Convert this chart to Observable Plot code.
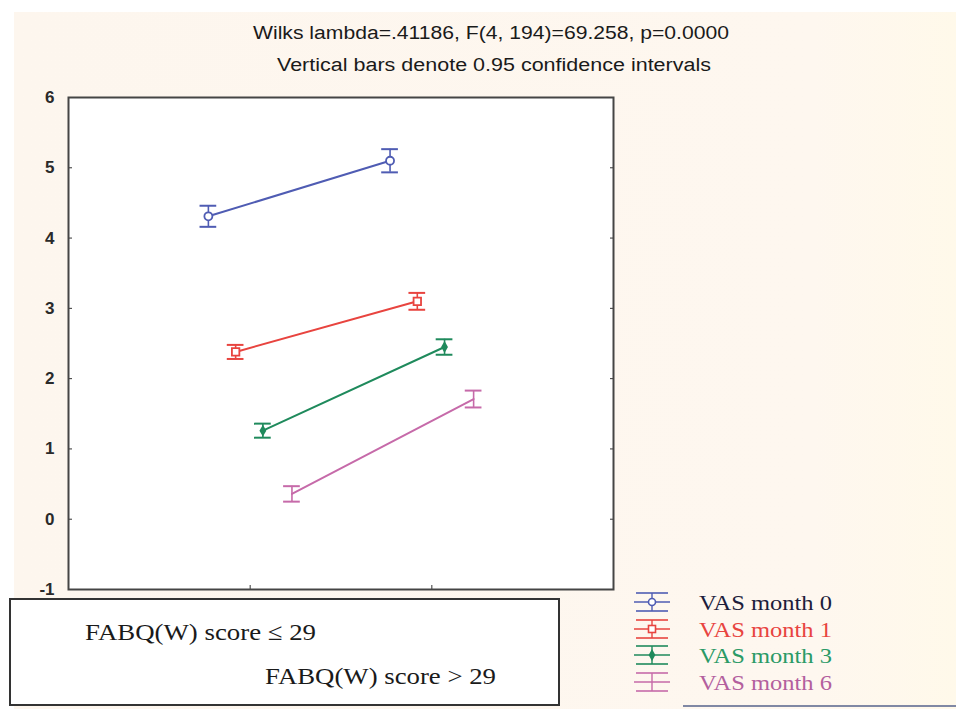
<!DOCTYPE html>
<html><head><meta charset="utf-8">
<script src="https://cdn.jsdelivr.net/npm/d3@7"></script>
<script src="https://cdn.jsdelivr.net/npm/@observablehq/plot@0.6"></script>
<style>
html,body{margin:0;padding:0;background:#fff;}
#chart{position:relative;width:956px;height:709px;overflow:hidden;}
#bg{position:absolute;left:14px;top:12px;right:0;bottom:0;background:linear-gradient(90deg,#fdf6ee 0%,#fef7ef 85%,#fff9ea 100%);}
#chart svg{position:absolute;left:0;top:0;}
</style></head><body><div id="chart"><div id="bg"></div></div>
<script>
// ---- data ----
const groups = ["FABQ(W) score \u2264 29", "FABQ(W) score > 29"];
const groupPos = [1, 2];
const seriesNames = ["VAS month 0", "VAS month 1", "VAS month 3", "VAS month 6"];
const month0 = [4.31, 5.10];
const month1 = [2.38, 3.10];
const month3 = [1.26, 2.45];
const month6 = [0.36, 1.71];
const ci0 = [0.15, 0.165];
const ci1 = [0.10, 0.12];
const ci3 = [0.10, 0.11];
const ci6 = [0.11, 0.12];
const yTicks = [-1, 0, 1, 2, 3, 4, 5, 6];
const title1 = "Wilks lambda=.41186, F(4, 194)=69.258, p=0.0000";
const title2 = "Vertical bars denote 0.95 confidence intervals";

// ---- styling ----
const seriesColors = ["#4f5cb3", "#e8443f", "#1f8a5c", "#c66aa9"];
const labelColors = ["#1d1d3c", "#e8443f", "#2a9a66", "#b35f9e"];
const offsets = [-0.23, -0.08, 0.07, 0.23];
const capHalf = 0.046;

const means = [month0, month1, month3, month6];
const cis = [ci0, ci1, ci3, ci6];
const rows = [];
seriesNames.forEach((s, i) => {
  means[i].forEach((m, j) => {
    rows.push({series: s, si: i, group: groups[j], x: groupPos[j] + offsets[i],
      mean: m, lo: m - cis[i][j], hi: m + cis[i][j]});
  });
});
const bySeries = i => rows.filter(d => d.si === i);

const marks = [
  Plot.frame({fill: "white"}),
  Plot.axisY({anchor: "left", ticks: yTicks, tickSize: 0, tickPadding: 14, fontSize: 17, fontWeight: "bold", fill: "#2a2a2a", label: null, tickFormat: d => String(d)}),
  Plot.axisY({anchor: "left", ticks: yTicks, tickSize: -4, label: null, tickFormat: () => "", stroke: "#333"}),
  Plot.axisY({anchor: "right", ticks: yTicks, tickSize: -4, label: null, tickFormat: () => "", stroke: "#333"}),
  Plot.axisX({anchor: "bottom", ticks: groupPos, tickSize: -4, label: null, tickFormat: () => "", stroke: "#333"})
];
seriesNames.forEach((s, i) => {
  const data = bySeries(i);
  const c = seriesColors[i];
  marks.push(
    Plot.line(data, {x: "x", y: "mean", stroke: c, strokeWidth: 2}),
    Plot.ruleX(data, {x: "x", y1: "lo", y2: "hi", stroke: c, strokeWidth: 1.6}),
    Plot.ruleY(data, {y: "hi", x1: d => d.x - capHalf, x2: d => d.x + capHalf, stroke: c, strokeWidth: 2}),
    Plot.ruleY(data, {y: "lo", x1: d => d.x - capHalf, x2: d => d.x + capHalf, stroke: c, strokeWidth: 2})
  );
});
marks.push(
  Plot.dot(bySeries(0), {x: "x", y: "mean", r: 4, stroke: seriesColors[0], strokeWidth: 1.8, fill: "white"}),
  Plot.dot(bySeries(1), {x: "x", y: "mean", symbol: "square", r: 4.2, stroke: seriesColors[1], strokeWidth: 1.8, fill: "white"}),
  Plot.dot(bySeries(2), {x: "x", y: "mean", symbol: "diamond", r: 3.6, fill: seriesColors[2]}),
  Plot.frame({stroke: "#454545", strokeWidth: 2})
);

const plot = Plot.plot({
  width: 956, height: 709,
  marginLeft: 68, marginRight: 343, marginTop: 97, marginBottom: 120,
  x: {domain: [0, 3], axis: null, label: null},
  y: {domain: [-1, 6], axis: null, label: null},
  style: {background: "transparent", overflow: "visible", fontFamily: "'Liberation Sans', Arial, sans-serif"},
  marks
});
document.getElementById("chart").appendChild(plot);

// ---- annotations: titles, group box, legend ----
const svg = d3.select(plot);
const narrow = "'Liberation Sans Narrow', 'Arial Narrow', 'Liberation Sans', sans-serif";
svg.append("text").attr("x", 491).attr("y", 39).attr("text-anchor", "middle")
  .attr("font-family", narrow).attr("font-size", 18).attr("fill", "#1a1a1a")
  .attr("textLength", 476).attr("lengthAdjust", "spacingAndGlyphs").text(title1);
svg.append("text").attr("x", 494).attr("y", 71).attr("text-anchor", "middle")
  .attr("font-family", narrow).attr("font-size", 18).attr("fill", "#1a1a1a")
  .attr("textLength", 434).attr("lengthAdjust", "spacingAndGlyphs").text(title2);

// group box
svg.append("rect").attr("x", 10).attr("y", 599).attr("width", 549).attr("height", 106)
  .attr("fill", "white").attr("stroke", "#333").attr("stroke-width", 2);
const serif = "'Liberation Serif', 'Times New Roman', serif";
svg.append("text").attr("x", 85).attr("y", 640).attr("text-anchor", "start").attr("font-family", serif).attr("font-size", 24)
  .attr("fill", "#1a1a1a").attr("textLength", 231).attr("lengthAdjust", "spacingAndGlyphs").text(groups[0]);
svg.append("text").attr("x", 265).attr("y", 684).attr("text-anchor", "start").attr("font-family", serif).attr("font-size", 24)
  .attr("fill", "#1a1a1a").attr("textLength", 231).attr("lengthAdjust", "spacingAndGlyphs").text(groups[1]);

// legend
const legendY = [602, 629, 655, 682];
seriesNames.forEach((s, i) => {
  const cy = legendY[i], c = seriesColors[i];
  const g = svg.append("g");
  g.append("line").attr("x1", 634).attr("x2", 670).attr("y1", cy).attr("y2", cy).attr("stroke", c).attr("stroke-width", 1.6);
  g.append("line").attr("x1", 636).attr("x2", 668).attr("y1", cy - 9).attr("y2", cy - 9).attr("stroke", c).attr("stroke-width", 1.6);
  g.append("line").attr("x1", 636).attr("x2", 668).attr("y1", cy + 9).attr("y2", cy + 9).attr("stroke", c).attr("stroke-width", 1.6);
  g.append("line").attr("x1", 652).attr("x2", 652).attr("y1", cy - 9).attr("y2", cy + 9).attr("stroke", c).attr("stroke-width", 1.4);
  if (i === 0) g.append("circle").attr("cx", 652).attr("cy", cy).attr("r", 3.5).attr("fill", "white").attr("stroke", c).attr("stroke-width", 1.6);
  if (i === 1) g.append("rect").attr("x", 648.5).attr("y", cy - 3.5).attr("width", 7).attr("height", 7).attr("fill", "white").attr("stroke", c).attr("stroke-width", 1.6);
  if (i === 2) g.append("path").attr("d", d3.symbol(d3.symbolDiamond, 40)()).attr("transform", `translate(652,${cy})`).attr("fill", c);
  g.append("text").attr("x", 699).attr("y", cy + 8).attr("text-anchor", "start").attr("font-family", serif).attr("font-size", 22)
    .attr("fill", labelColors[i]).attr("textLength", 133).attr("lengthAdjust", "spacingAndGlyphs").text(s);
});
svg.append("line").attr("x1", 683).attr("x2", 956).attr("y1", 706).attr("y2", 706).attr("stroke", "#8088a4").attr("stroke-width", 2);
</script></body></html>
